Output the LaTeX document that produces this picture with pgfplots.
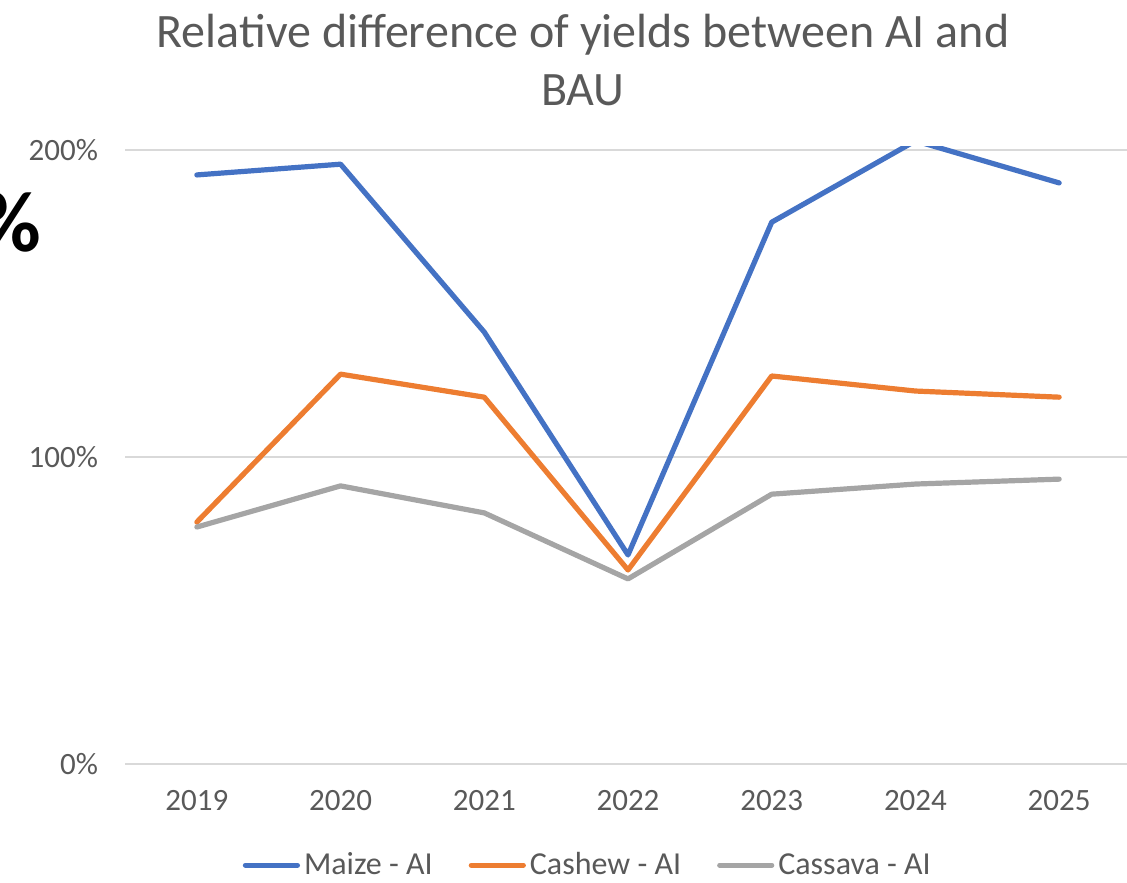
\documentclass[border=0pt]{standalone}
\usepackage{pgfplots}
\pgfplotsset{compat=1.18}
\usepackage{fontspec}
\setmainfont{Carlito}
\definecolor{maize}{HTML}{4472C4}
\definecolor{cashew}{HTML}{ED7D31}
\definecolor{cassava}{HTML}{A5A5A5}
\definecolor{txt}{HTML}{595959}
\definecolor{grd}{HTML}{D9D9D9}
\begin{document}
\begin{tikzpicture}[x=0.5pt,y=0.5pt]
\useasboundingbox (0,0) rectangle (1127,882);
% stray label at the left edge of the slide
\node[anchor=east, inner sep=0pt, font=\fontsize{43}{43}\selectfont\bfseries] at (42,660) {\%};
% title
\node[align=center, text=txt, font=\fontsize{24}{29}\selectfont] at (583,822) {Relative difference of yields between AI and\\BAU};
\begin{axis}[
    at={(62.5pt,59pt)}, anchor=south west,
    scale only axis,
    width=503pt, height=308.5pt,
    xmin=-0.5, xmax=6.5,
    ymin=0, ymax=201,
    xtick={0,...,6},
    xticklabels={2019,2020,2021,2022,2023,2024,2025},
    ytick={0,100,200},
    yticklabels={0\%,100\%,200\%},
    /pgf/number format/assume math mode=true,
    axis line style={draw=none},
    major tick length=0pt,
    ymajorgrids,
    grid style={grd, line width=0.75pt},
    ticklabel style={text=txt, font=\fontsize{15.5}{18}\selectfont},
    yticklabel style={xshift=-10pt},
    xticklabel style={yshift=-9.5pt},
    legend style={at={(0.461,-0.164)}, anchor=center, draw=none, fill=none,
        legend columns=-1, text=txt, font=\fontsize{16}{18}\selectfont,
        /tikz/every even column/.append style={column sep=16pt}},
    legend cell align=left,
    legend image code/.code={\draw[#1, line cap=round] (0pt,0pt) -- (26pt,0pt);},
]
\addplot[maize, line width=2.6pt, line join=round, line cap=round] coordinates {
    (0,191.9) (1,195.4) (2,140.7) (3,68.1) (4,176.5) (5,203) (6,189.3)
};
\addplot[cashew, line width=2.6pt, line join=round, line cap=round] coordinates {
    (0,78.8) (1,127.0) (2,119.5) (3,63.2) (4,126.4) (5,121.5) (6,119.5)
};
\addplot[cassava, line width=2.6pt, line join=round, line cap=round] coordinates {
    (0,77.2) (1,90.6) (2,81.8) (3,60.3) (4,87.9) (5,91.2) (6,92.8)
};
\legend{Maize - AI, Cashew - AI, Cassava - AI}
\end{axis}
\end{tikzpicture}
\end{document}
